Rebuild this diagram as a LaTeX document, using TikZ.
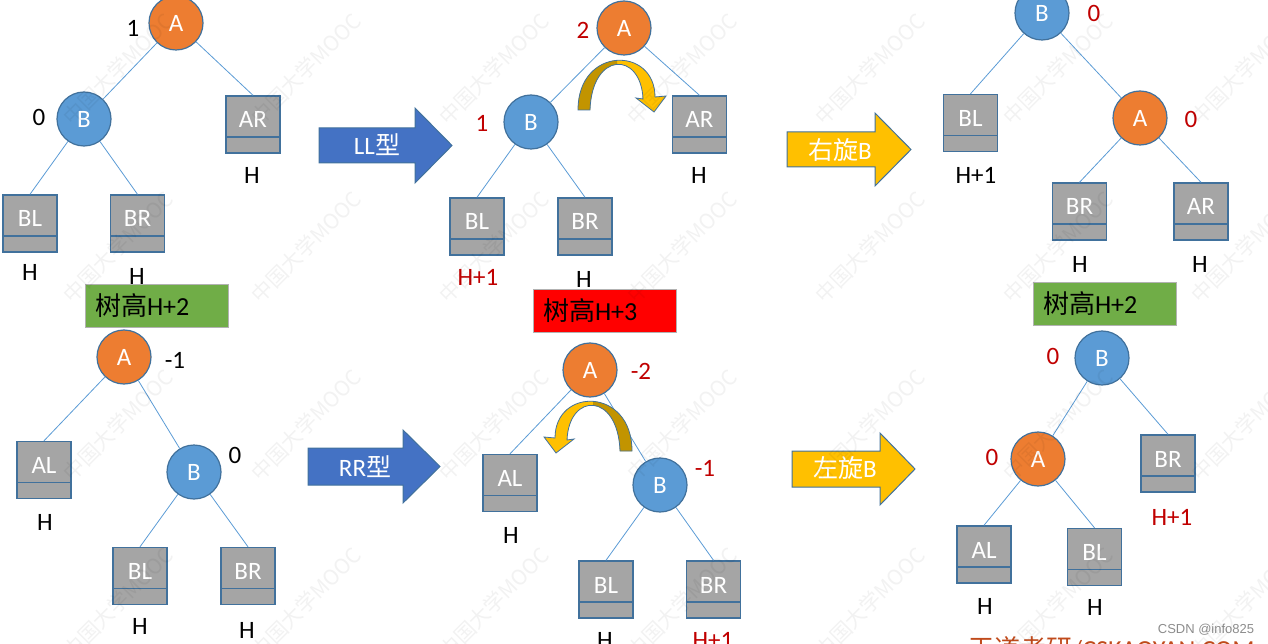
\documentclass[tikz,border=0pt]{standalone}
\usepackage{fontspec}
\setmainfont{Carlito}
\newfontfamily\cjk{Noto Sans CJK SC}
\newfontfamily\csdnfont{Liberation Sans}
\usepackage{tikz}
\usetikzlibrary{positioning}
\definecolor{nodeorange}{HTML}{ED7D31}
\definecolor{nodeblue}{HTML}{5B9BD5}
\definecolor{rimblue}{HTML}{41719C}
\definecolor{boxgray}{HTML}{A5A5A5}
\definecolor{arrowblue}{HTML}{4472C4}
\definecolor{turnyellow}{HTML}{FFC000}
\definecolor{turndark}{HTML}{C29400}
\definecolor{balred}{HTML}{C00000}
\definecolor{treegreen}{HTML}{70AD47}
\definecolor{sitered}{HTML}{C04A1B}

\tikzset{
  big/.style={font=\fontsize{25pt}{30pt}\selectfont},
  rnode/.style={circle, minimum size=54pt, inner sep=0pt, draw=rimblue, line width=1.2pt, text=white, big},
  anode/.style={rnode, fill=nodeorange},
  bnode/.style={rnode, fill=nodeblue},
  sub/.style={rectangle, minimum width=54pt, minimum height=57pt, inner sep=0pt,
    fill=boxgray, draw=rimblue, line width=1.4pt, text=white, big,
    text height=17pt, text depth=10pt,
    path picture={\draw[rimblue, line width=1.4pt]
      ([yshift=16pt]path picture bounding box.south west) --
      ([yshift=16pt]path picture bounding box.south east);}},
  edge/.style={draw=nodeblue, line width=0.8pt},
  bal/.style={big, inner sep=0pt},
  balr/.style={bal, text=balred},
  hgt/.style={big, inner sep=0pt},
  hgtr/.style={hgt, text=balred},
  hbox/.style={minimum width=143pt, minimum height=43pt, draw=black!30, line width=1pt,
    text width=123pt, align=left, inner xsep=10pt, font=\fontsize{26pt}{30pt}\selectfont},
  fatblue/.style={fill=arrowblue, draw=rimblue, line width=1pt},
  fatyellow/.style={fill=turnyellow, draw=rimblue, line width=1pt},
  arrowtxt/.style={text=white, big},
  wmark/.style={rotate=45, text=black, text opacity=0.05, font=\cjk\fontsize{21pt}{24pt}\selectfont},
  rotarrow/.pic={
    \path[save path=\bandpath] (0,0) .. controls (0,-64) and (77,-64) .. (77,-13)
      -- (88,-14) -- (76,2) -- (58,-12) -- (65,-11)
      .. controls (63,-59) and (14,-59) .. (12,0) -- cycle;
    \path[use path=\bandpath, fill=turnyellow];
    \begin{scope}
      \clip (-6,6) rectangle (39,-60);
      \path[use path=\bandpath, fill=turndark];
    \end{scope}
    \path[use path=\bandpath, draw=rimblue, line width=0.8pt];
  }
}

\begin{document}
\begin{tikzpicture}[x=1pt,y=-1pt]
\useasboundingbox (0,0) rectangle (1268,644);

% LL case, before
\node[anode] (a1) at (176,23) {A};
\node[bnode] (b1) at (84,119) {B};
\node[sub] (ar1) at (253,124.5) {AR};
\node[sub] (bl1) at (30,223.5) {BL};
\node[sub] (br1) at (137.5,223.5) {BR};
\draw[edge] (a1) -- (b1);
\draw[edge] (a1) -- (ar1.north);
\draw[edge] (b1) -- (bl1.north);
\draw[edge] (b1) -- (br1.north);
\node[bal] (fa1) at (133,28) {1};
\node[bal] (fb1) at (39,117) {0};
\node[hgt] (har1) at (252,175) {H};
\node[hgt] (hbl1) at (30,272) {H};
\node[hgt] (hbr1) at (137,276) {H};
\node[hbox, fill=treegreen] (tall1) at (156.5,305.5) {{\cjk 树高}H+2};

% LL arrow
\draw[fatblue] (319,128) -- ++(96,0) -- ++(0,-20) -- ++(37,37.5) -- ++(-37,37.5) -- ++(0,-20) -- ++(-96,0) -- cycle;
\node[arrowtxt] (ll) at (377,145) {LL{\cjk 型}};

% LL case, unbalanced
\node[anode] (a2) at (624,28) {A};
\node[bnode] (b2) at (531,122) {B};
\node[sub] (ar2) at (699.5,124.5) {AR};
\node[sub] (bl2) at (477,226.5) {BL};
\node[sub] (br2) at (585,226.5) {BR};
\draw[edge] (a2) -- (b2);
\draw[edge] (a2) -- (ar2.north);
\draw[edge] (b2) -- (bl2.north);
\draw[edge] (b2) -- (br2.north);
\node[balr] (fa2) at (583,30) {2};
\node[balr] (fb2) at (482,123) {1};
\node[hgt] (har2) at (699,175) {H};
\node[hgtr] (hbl2) at (478,277) {H+1};
\node[hgt] (hbr2) at (584,279) {H};
\pic at (578,110) {rotarrow};
\node[hbox, fill=red] (tall2) at (604.5,311) {{\cjk 树高}H+3};

% right rotation arrow
\draw[fatyellow] (787,132) -- ++(88,0) -- ++(0,-19) -- ++(36,36.5) -- ++(-36,36.5) -- ++(0,-19) -- ++(-88,0) -- cycle;
\node[arrowtxt] (rot1) at (840,150) {{\cjk 右旋}B};

% LL case, after
\node[bnode] (b3) at (1042,13) {B};
\node[anode] (a3) at (1140,118) {A};
\node[sub] (bl3) at (970.5,123) {BL};
\node[sub] (br3) at (1079.5,211.5) {BR};
\node[sub] (ar3) at (1201,211.5) {AR};
\draw[edge] (b3) -- (bl3.north);
\draw[edge] (b3) -- (a3);
\draw[edge] (a3) -- (br3.north);
\draw[edge] (a3) -- (ar3.north);
\node[balr] (fb3) at (1094,13) {0};
\node[balr] (fa3) at (1191,119) {0};
\node[hgt] (hbl3) at (976,175) {H+1};
\node[hgt] (hbr3) at (1080,264) {H};
\node[hgt] (har3) at (1200,264) {H};
\node[hbox, fill=treegreen] (tall3) at (1104.5,304) {{\cjk 树高}H+2};

% RR case, before
\node[anode] (a4) at (124,357) {A};
\node[bnode] (b4) at (194,472) {B};
\node[sub] (al4) at (44,470) {AL};
\node[sub] (bl4) at (140,576) {BL};
\node[sub] (br4) at (248,576) {BR};
\draw[edge] (a4) -- (al4.north);
\draw[edge] (a4) -- (b4);
\draw[edge] (b4) -- (bl4.north);
\draw[edge] (b4) -- (br4.north);
\node[bal] (fa4) at (175,360) {-1};
\node[bal] (fb4) at (235,455) {0};
\node[hgt] (hal4) at (45,522) {H};
\node[hgt] (hbl4) at (140,626) {H};
\node[hgt] (hbr4) at (247,630) {H};

% RR arrow
\draw[fatblue] (308,448) -- ++(95,0) -- ++(0,-18) -- ++(37,36.5) -- ++(-37,36.5) -- ++(0,-18) -- ++(-95,0) -- cycle;
\node[arrowtxt] (rr) at (365,467) {RR{\cjk 型}};

% RR case, unbalanced
\node[anode] (a5) at (590,370) {A};
\node[bnode] (b5) at (660,485) {B};
\node[sub] (al5) at (510,483) {AL};
\node[sub] (bl5) at (606,589.5) {BL};
\node[sub] (br5) at (713.5,589.5) {BR};
\draw[edge] (a5) -- (al5.north);
\draw[edge] (a5) -- (b5);
\draw[edge] (b5) -- (bl5.north);
\draw[edge] (b5) -- (br5.north);
\node[balr] (fa5) at (641,371) {-2};
\node[balr] (fb5) at (705,468) {-1};
\node[hgt] (hal5) at (511,535) {H};
\node[hgt] (hbl5) at (605,640) {H};
\node[hgtr] (hbr5) at (713,640) {H+1};
\pic[xscale=-1] at (632,451) {rotarrow};

% left rotation arrow
\draw[fatyellow] (792,451) -- ++(88,0) -- ++(0,-18) -- ++(35,36) -- ++(-35,36) -- ++(0,-18) -- ++(-88,0) -- cycle;
\node[arrowtxt] (rot2) at (845,468) {{\cjk 左旋}B};

% RR case, after
\node[bnode] (b6) at (1102,358) {B};
\node[anode] (a6) at (1038,459) {A};
\node[sub] (br6) at (1168,463.5) {BR};
\node[sub] (al6) at (984,554.5) {AL};
\node[sub] (bl6) at (1094.5,557) {BL};
\draw[edge] (b6) -- (a6);
\draw[edge] (b6) -- (br6.north);
\draw[edge] (a6) -- (al6.north);
\draw[edge] (a6) -- (bl6.north);
\node[balr] (fb6) at (1053,356) {0};
\node[balr] (fa6) at (992,457) {0};
\node[hgtr] (hbr6) at (1172,517) {H+1};
\node[hgt] (hal6) at (985,606) {H};
\node[hgt] (hbl6) at (1095,607) {H};

% marks
\node[font=\csdnfont\fontsize{13pt}{15pt}\selectfont, text=black!45] (csdn) at (1206,630) {CSDN @info825};
\node[anchor=base west, inner sep=0pt, text=sitered, font=\fontsize{26pt}{30pt}\selectfont] (site) at (968,658) {{\cjk 王道考研}/CSKAOYAN.COM};
\foreach \i in {0,...,6}
  \foreach \j in {0,...,3}
    \node[wmark] at ({118+188*\i},{69+178*\j}) {中国大学MOOC};
\end{tikzpicture}
\end{document}
